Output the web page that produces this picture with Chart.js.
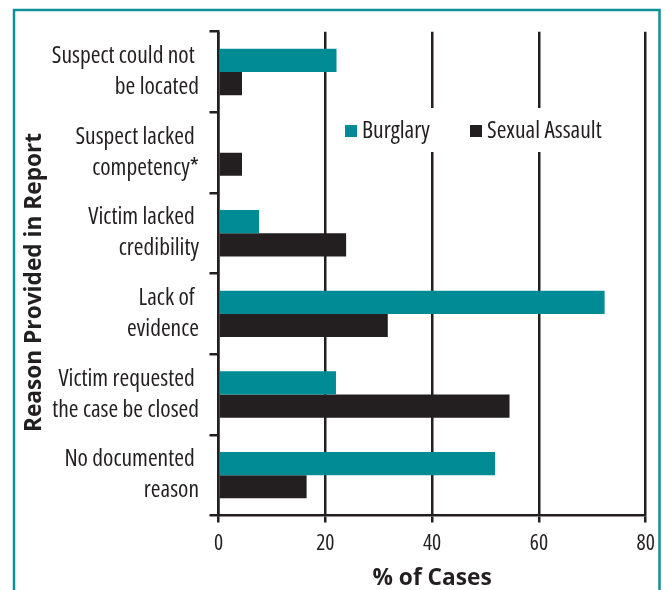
<!DOCTYPE html>
<html>
<head>
<meta charset="utf-8">
<script src="https://cdn.jsdelivr.net/npm/chart.js@4.4.0/dist/chart.umd.min.js"></script>
<style>
  html, body { margin: 0; padding: 0; background: #ffffff; }
  #wrap { width: 665px; height: 590px; }
</style>
</head>
<body>
<div id="wrap"><canvas id="chart" width="665" height="590"></canvas></div>
<script>
// Reasons, top to bottom (first line keeps a trailing space like the original)
const reasons = [
    ['Suspect could not ', 'be located'],
    ['Suspect lacked ', 'competency*'],
    ['Victim lacked ', 'credibility'],
    ['Lack of ', 'evidence'],
    ['Victim requested ', 'the case be closed'],
    ['No documented ', 'reason']
];
const burglary = [22.1, 0, 7.6, 72.3, 22.0, 51.8];
const sexualAssault = [4.4, 4.4, 23.9, 31.7, 54.5, 16.5];
const xTicks = [0, 20, 40, 60, 80];

const TEAL = '#008b95';
const INK = '#231f20';
const FAMILY = '"Open Sans", "DejaVu Sans Condensed", sans-serif';
// Chart.js passes weight straight into the font string, so the width keyword rides along
const COND = 'condensed';

// Teal frame around the figure
const framePlugin = {
    id: 'frame',
    beforeDraw(chart) {
        const ctx = chart.ctx;
        ctx.save();
        ctx.strokeStyle = '#12909a';
        ctx.lineWidth = 2.5;
        ctx.beginPath();
        ctx.moveTo(14, 600);
        ctx.lineTo(14, 10);
        ctx.lineTo(659.5, 10);
        ctx.lineTo(659.5, 600);
        ctx.stroke();
        ctx.restore();
    }
};

// Legend sits inside the plot on a white box that hides the grid lines
const legendPlugin = {
    id: 'insideLegend',
    beforeDatasetsDraw(chart) {
        const ctx = chart.ctx;
        const sets = chart.data.datasets;
        const starts = [345, 470];
        ctx.save();
        ctx.fillStyle = '#ffffff';
        ctx.fillRect(336, 108, 300, 44);
        ctx.font = COND + ' 23.5px ' + FAMILY;
        ctx.textBaseline = 'alphabetic';
        ctx.textAlign = 'left';
        sets.forEach((ds, i) => {
            const x = starts[i];
            ctx.fillStyle = ds.backgroundColor;
            ctx.fillRect(x, 125, 12, 12);
            ctx.fillStyle = INK;
            ctx.fillText(ds.label, x + 17, 138);
        });
        ctx.restore();
    }
};

new Chart(document.getElementById('chart').getContext('2d'), {
    type: 'bar',
    data: {
        labels: reasons,
        datasets: [
            {
                label: 'Burglary',
                data: burglary,
                backgroundColor: TEAL,
                borderWidth: 0,
                categoryPercentage: 0.575,
                barPercentage: 1.0
            },
            {
                label: 'Sexual Assault',
                data: sexualAssault,
                backgroundColor: INK,
                borderWidth: 0,
                categoryPercentage: 0.575,
                barPercentage: 1.0
            }
        ]
    },
    options: {
        indexAxis: 'y',
        responsive: false,
        animation: false,
        layout: {
            padding: { top: 31.7, right: 19.3, bottom: 0, left: 0 }
        },
        plugins: {
            legend: { display: false },
            tooltip: { enabled: false }
        },
        scales: {
            x: {
                min: 0,
                max: 80,
                afterBuildTicks: (scale) => {
                    scale.ticks = xTicks.map(v => ({ value: v }));
                },
                afterFit: (scale) => {
                    scale.height = 74.5;
                },
                border: { display: true, color: INK, width: 2.5 },
                grid: {
                    color: INK,
                    lineWidth: 2.5,
                    drawTicks: true,
                    tickLength: 7
                },
                ticks: {
                    color: INK,
                    padding: 8,
                    font: { family: FAMILY, size: 21.5, weight: COND }
                },
                title: {
                    display: true,
                    text: '% of Cases',
                    color: INK,
                    padding: { top: 0, bottom: 0 },
                    font: { family: FAMILY, size: 22.7, weight: 'bold', lineHeight: 1 }
                }
            },
            y: {
                afterFit: (scale) => {
                    scale.width = 218.5;
                    // labels sit between ticks, so no extra room above/below is needed
                    scale.paddingTop = 0;
                    scale.paddingBottom = 0;
                },
                border: { display: true, color: INK, width: 2.5 },
                grid: {
                    offset: true,
                    drawOnChartArea: false,
                    drawTicks: true,
                    tickLength: 9,
                    color: INK,
                    lineWidth: 2.5
                },
                ticks: {
                    color: INK,
                    padding: 10.5,
                    font: { family: FAMILY, size: 23.5, weight: COND, lineHeight: 1.32 }
                },
                title: {
                    display: true,
                    // trailing spaces nudge the centred title down, as in the original
                    text: 'Reason Provided in Report   ',
                    color: INK,
                    padding: { top: 21, bottom: 0 },
                    font: { family: FAMILY, size: 22.7, weight: 'bold', lineHeight: 1.2 }
                }
            }
        }
    },
    plugins: [framePlugin, legendPlugin]
});
</script>
</body>
</html>
